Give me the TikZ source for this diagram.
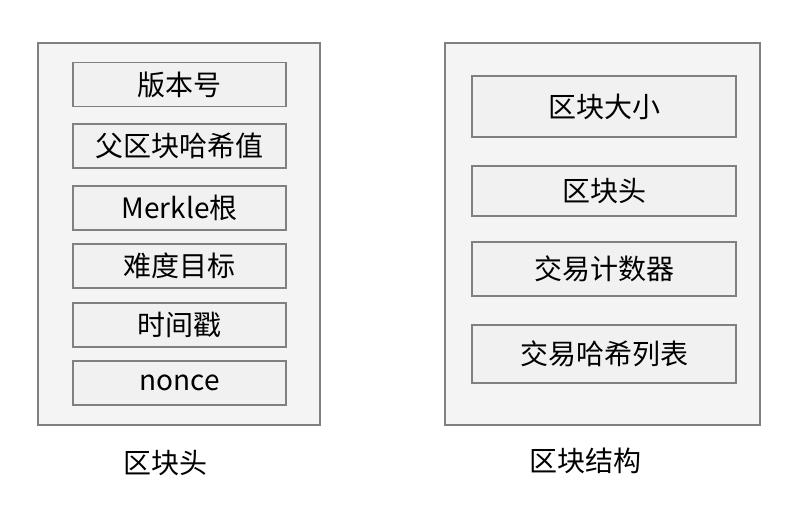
\documentclass[tikz,border=0pt]{standalone}
\usepackage{fontspec}
\setmainfont{Noto Sans CJK SC}
\definecolor{boxfill}{HTML}{F4F4F4}
\definecolor{fieldfill}{HTML}{F1F1F1}
\definecolor{boxline}{HTML}{808080}
\tikzset{
  frame/.style={draw=boxline, fill=boxfill, line width=0.8pt},
  field/.style={draw=boxline, fill=fieldfill, line width=0.8pt, inner sep=0pt,
    font=\fontsize{21}{25}\selectfont},
  caption/.style={font=\fontsize{21}{25}\selectfont}
}
\begin{document}
\begin{tikzpicture}[x=0.75pt, y=-0.75pt]
    \useasboundingbox (0,0) rectangle (806,514);
    % outer frames
    \draw [frame] (38,43) rectangle (320,425);
    \draw [frame] (445,43) rectangle (760,425);
    % block header fields
    \foreach \y/\txt/\n in {84.5/版本号/a, 146/父区块哈希值/b, 208/Merkle根/c,
                            266/难度目标/d, 325/时间戳/e, 383/nonce/f}
      \node [field, minimum width=159.75pt, minimum height=33pt] (hdr\n) at (179.5,\y) {\txt};
    % block structure fields
    \node [field, minimum width=198pt, minimum height=45.75pt] (size) at (604,106.5) {区块大小};
    \node [field, minimum width=198pt, minimum height=37.5pt] (head) at (604,191) {区块头};
    \node [field, minimum width=198pt, minimum height=40.5pt] (count) at (604,269) {交易计数器};
    \node [field, minimum width=198pt, minimum height=43.5pt] (txlist) at (604,354) {交易哈希列表};
    % captions
    \node [caption] (lhdr) at (165,463) {区块头};
    \node [caption] (lblock) at (585,461) {区块结构};
  \end{tikzpicture}
\end{document}
